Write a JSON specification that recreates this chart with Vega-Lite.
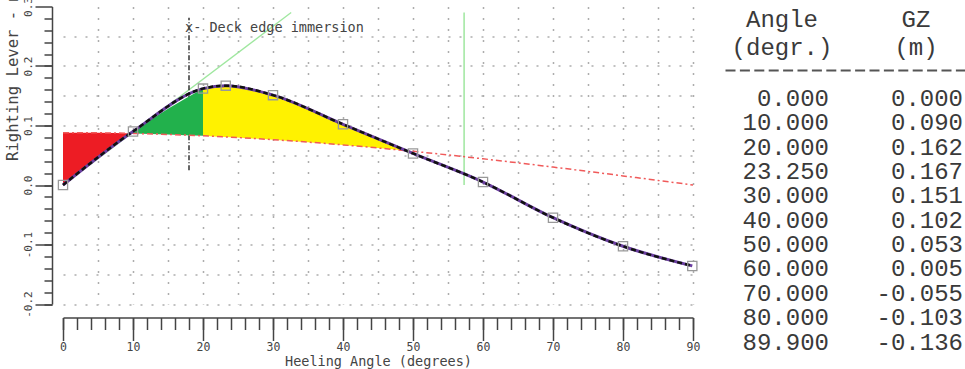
{
  "$schema": "https://vega.github.io/schema/vega-lite/v6.json",
  "width": 630,
  "height": 297.5,
  "autosize": {"type": "none"},
  "padding": {"left": 63, "top": 6.5, "right": 272, "bottom": 65},
  "background": "white",
  "config": {
    "view": {"stroke": null},
    "locale": {"number": {"decimal": ".", "thousands": ",", "grouping": [3], "currency": ["$", ""], "minus": "-"}}
  },
  "datasets": {
    "gz": [
      {"angle": 0, "gz": 0.0},
      {"angle": 10, "gz": 0.09},
      {"angle": 20, "gz": 0.162},
      {"angle": 23.25, "gz": 0.167},
      {"angle": 30, "gz": 0.151},
      {"angle": 40, "gz": 0.102},
      {"angle": 50, "gz": 0.053},
      {"angle": 60, "gz": 0.005},
      {"angle": 70, "gz": -0.055},
      {"angle": 80, "gz": -0.103},
      {"angle": 89.9, "gz": -0.136}
    ],
    "heel": [
      {"angle": 0, "arm": 0.088},
      {"angle": 5, "arm": 0.0877},
      {"angle": 10, "arm": 0.0867},
      {"angle": 15, "arm": 0.085},
      {"angle": 20, "arm": 0.0827},
      {"angle": 25, "arm": 0.0798},
      {"angle": 30, "arm": 0.0762},
      {"angle": 35, "arm": 0.0721},
      {"angle": 40, "arm": 0.0674},
      {"angle": 45, "arm": 0.0622},
      {"angle": 50, "arm": 0.0566},
      {"angle": 55, "arm": 0.0505},
      {"angle": 60, "arm": 0.044},
      {"angle": 65, "arm": 0.0372},
      {"angle": 70, "arm": 0.0301},
      {"angle": 75, "arm": 0.0228},
      {"angle": 80, "arm": 0.0153},
      {"angle": 85, "arm": 0.0077},
      {"angle": 90, "arm": 0.0}
    ],
    "zones": [
      {"zone": "red", "angle": 0, "gz": 0.0, "arm": 0.088},
      {"zone": "red", "angle": 5, "gz": 0.046, "arm": 0.0877},
      {"zone": "red", "angle": 10, "gz": 0.09, "arm": 0.0867},
      {"zone": "green", "angle": 10, "gz": 0.09, "arm": 0.0867},
      {"zone": "green", "angle": 15, "gz": 0.128, "arm": 0.085},
      {"zone": "green", "angle": 20, "gz": 0.162, "arm": 0.0827},
      {"zone": "yellow", "angle": 20, "gz": 0.162, "arm": 0.0827},
      {"zone": "yellow", "angle": 23.25, "gz": 0.167, "arm": 0.0805},
      {"zone": "yellow", "angle": 30, "gz": 0.151, "arm": 0.0762},
      {"zone": "yellow", "angle": 40, "gz": 0.102, "arm": 0.0674},
      {"zone": "yellow", "angle": 45, "gz": 0.0775, "arm": 0.0622},
      {"zone": "yellow", "angle": 49, "gz": 0.0577, "arm": 0.0577}
    ],
    "deck": [{"angle": 18, "lo": 0.025, "hi": 0.281, "label": "x- Deck edge immersion"}],
    "tangent": [{"angle": 0, "gz": 0.0}, {"angle": 32.6, "gz": 0.29}],
    "radian": [{"angle": 57.3, "lo": 0.0, "hi": 0.29}]
  },
  "layer": [
    {
      "resolve": {"axis": {"x": "independent", "y": "independent"}},
      "layer": [
        {
          "data": {"name": "tangent"},
          "mark": {"type": "line", "color": "#9fe79f", "strokeWidth": 1.3},
          "encoding": {
            "x": {
              "field": "angle", "type": "quantitative",
              "scale": {"domain": [0, 90], "nice": false, "zero": false},
              "axis": {
                "orient": "bottom", "offset": 13.5,
                "values": [0, 10, 20, 30, 40, 50, 60, 70, 80, 90],
                "domainColor": "#444", "domainWidth": 1.5,
                "tickColor": "#444", "tickWidth": 1.5, "tickSize": 23,
                "grid": false,
                "labelFlush": false, "labelOverlap": false, "labelPadding": 1,
                "labelFont": "DejaVu Sans Mono", "labelFontSize": 11.5, "labelColor": "#444",
                "title": "Heeling Angle (degrees)", "titleFont": "DejaVu Sans Mono", "titleFontSize": 13.5,
                "titleFontWeight": "normal", "titleColor": "#444",
                "titleBaseline": "middle", "titleY": 43.5
              }
            },
            "y": {
              "field": "gz", "type": "quantitative",
              "scale": {"domain": [-0.2, 0.3], "nice": false, "zero": false},
              "axis": {
                "orient": "left", "offset": 11,
                "values": [-0.2, -0.1, 0, 0.1, 0.2, 0.3],
                "format": ".1f",
                "domainColor": "#444", "domainWidth": 1.5,
                "tickColor": "#444", "tickWidth": 1.5, "tickSize": 17,
                "grid": false,
                "labelAngle": -90, "labelAlign": "center", "labelBaseline": "bottom",
                "labelPadding": 1.5, "labelOverlap": false, "labelFlush": false,
                "labelFont": "DejaVu Sans Mono", "labelFontSize": 11, "labelColor": "#444",
                "title": "Righting Lever - m", "titleFont": "DejaVu Sans Mono", "titleFontSize": 15.6,
                "titleFontWeight": "normal", "titleColor": "#444",
                "titleAngle": -90, "titleAlign": "center", "titleBaseline": "bottom",
                "titleX": -32, "titleY": 69.5
              }
            }
          }
        },
        {
          "data": {"name": "radian"},
          "mark": {"type": "rule", "color": "#9fe79f", "strokeWidth": 1.5},
          "encoding": {
            "x": {
              "field": "angle", "type": "quantitative",
              "axis": {
                "orient": "bottom", "offset": 13.5,
                "values": [0,2,4,6,8,10,12,14,16,18,20,22,24,26,28,30,32,34,36,38,40,42,44,46,48,50,52,54,56,58,60,62,64,66,68,70,72,74,76,78,80,82,84,86,88,90],
                "domain": false, "labels": false, "grid": false, "title": null,
                "tickColor": "#444", "tickWidth": 1.5, "tickSize": 12
              }
            },
            "y": {
              "field": "lo", "type": "quantitative",
              "axis": {
                "orient": "left", "offset": 11,
                "values": [-0.2,-0.18,-0.16,-0.14,-0.12,-0.1,-0.08,-0.06,-0.04,-0.02,0,0.02,0.04,0.06,0.08,0.1,0.12,0.14,0.16,0.18,0.2,0.22,0.24,0.26,0.28],
                "domain": false, "labels": false, "grid": false, "title": null,
                "tickColor": "#444", "tickWidth": 1.5, "tickSize": 8
              }
            },
            "y2": {"field": "hi"}
          }
        },
        {
          "data": {"name": "deck"},
          "mark": {"type": "rule", "color": "#333", "strokeWidth": 1.5, "strokeDash": [5, 2, 1, 2]},
          "encoding": {
            "x": {
              "field": "angle", "type": "quantitative",
              "axis": {
                "orient": "bottom", "offset": 0,
                "values": [5,10,15,20,25,30,35,40,45,50,55,60,65,70,75,80,85,90],
                "domain": false, "labels": false, "ticks": false, "title": null,
                "grid": true, "gridDash": [2, 9], "gridColor": "#adadad", "gridWidth": 1.5
              }
            },
            "y": {
              "field": "lo", "type": "quantitative",
              "axis": {
                "orient": "left", "offset": 0,
                "values": [-0.2,-0.15,-0.1,-0.05,0.05,0.1,0.15,0.2,0.25],
                "domain": false, "labels": false, "ticks": false, "title": null,
                "grid": true, "gridDash": [2, 9], "gridColor": "#adadad", "gridWidth": 1.5
              }
            },
            "y2": {"field": "hi"}
          }
        },
        {
          "data": {"name": "deck"},
          "mark": {"type": "text", "align": "left", "baseline": "middle", "dx": -4, "dy": 10, "font": "DejaVu Sans Mono", "fontSize": 13.5, "color": "#444"},
          "encoding": {
            "x": {"field": "angle", "type": "quantitative", "axis": null},
            "y": {"field": "hi", "type": "quantitative", "axis": null},
            "text": {"field": "label"}
          }
        },
        {
          "data": {"name": "zones"},
          "mark": {"type": "area", "interpolate": "monotone", "opacity": 1},
          "encoding": {
            "x": {"field": "angle", "type": "quantitative", "axis": null},
            "y": {"field": "gz", "type": "quantitative", "stack": null, "axis": null},
            "y2": {"field": "arm"},
            "color": {"field": "zone", "type": "nominal", "scale": {"domain": ["red", "green", "yellow"], "range": ["#ed1c24", "#22b14c", "#fff200"]}, "legend": null}
          }
        },
        {
          "data": {"name": "heel"},
          "mark": {"type": "line", "interpolate": "monotone", "color": "#f05a5a", "strokeWidth": 1.5, "strokeDash": [6, 3, 2, 3]},
          "encoding": {
            "x": {"field": "angle", "type": "quantitative", "axis": null},
            "y": {"field": "arm", "type": "quantitative", "axis": null}
          }
        },
        {
          "mark": {"type": "rule", "color": "#444", "strokeWidth": 2},
          "encoding": {"y": {"datum": 0, "type": "quantitative", "axis": null}}
        },
        {
          "mark": {"type": "rule", "color": "#444", "strokeWidth": 2},
          "encoding": {
            "x": {"datum": 0, "type": "quantitative", "axis": null},
            "y": {"datum": -0.2, "type": "quantitative", "axis": null},
            "y2": {"datum": 0.29}
          }
        },
        {
          "data": {"name": "gz"},
          "mark": {"type": "line", "interpolate": "monotone", "color": "#6b3fa0", "strokeWidth": 3},
          "encoding": {
            "x": {"field": "angle", "type": "quantitative", "axis": null},
            "y": {"field": "gz", "type": "quantitative", "axis": null}
          }
        },
        {
          "data": {"name": "gz"},
          "mark": {"type": "line", "interpolate": "monotone", "color": "#111", "strokeWidth": 2.5, "strokeDash": [5, 3]},
          "encoding": {
            "x": {"field": "angle", "type": "quantitative", "axis": null},
            "y": {"field": "gz", "type": "quantitative", "axis": null}
          }
        },
        {
          "data": {"name": "gz"},
          "mark": {"type": "point", "shape": "square", "filled": false, "size": 85, "stroke": "#999", "strokeWidth": 1.3, "opacity": 1},
          "encoding": {
            "x": {"field": "angle", "type": "quantitative", "axis": null},
            "y": {"field": "gz", "type": "quantitative", "axis": null}
          }
        }
      ]
    },
    {
      "data": {"name": "gz"},
      "transform": [{"fold": ["angle", "gz"], "as": ["col", "val"]}],
      "mark": {"type": "text", "align": "right", "baseline": "middle", "font": "Liberation Mono", "fontSize": 24, "color": "#3a3a3a"},
      "encoding": {
        "x": {
          "field": "col", "type": "nominal", "bandPosition": 1,
          "scale": {"type": "band", "domain": ["angle", "gz"], "range": [662, 902], "paddingInner": 0.239, "paddingOuter": 0.015},
          "axis": {
            "orient": "top", "offset": -63.5,
            "ticks": false, "tickSize": 0, "grid": false,
            "domainDash": [10, 4.4], "domainWidth": 2, "domainColor": "#555",
            "labelExpr": "datum.value === 'angle' ? ['Angle', '(degr.)'] : ['GZ', '(m)']",
            "labelAlign": "center", "labelBaseline": "bottom", "labelLineHeight": 28, "labelPadding": 39,
            "labelOffset": 4,
            "labelAngle": 0, "labelOverlap": false, "labelFlush": false,
            "labelFont": "Liberation Mono", "labelFontSize": 24, "labelColor": "#3a3a3a",
            "title": null
          }
        },
        "y": {
          "field": "angle", "type": "ordinal",
          "scale": {"type": "point", "range": [92.5, 336], "padding": 0},
          "axis": null
        },
        "text": {"field": "val", "type": "quantitative", "format": ".3f"}
      }
    }
  ],
  "resolve": {
    "scale": {"x": "independent", "y": "independent"},
    "axis": {"x": "independent", "y": "independent"}
  }
}
